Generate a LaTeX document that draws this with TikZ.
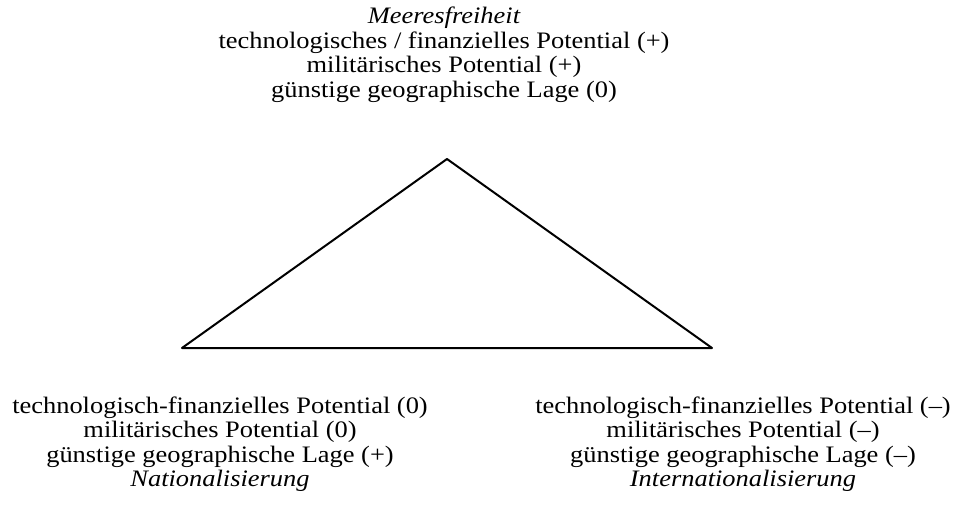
\documentclass[tikz,border=0pt]{standalone}
\usepackage{fontspec}
\setmainfont{Liberation Serif}
\begin{document}
\begin{tikzpicture}[x=1pt,y=-1pt,
  lbl/.style={anchor=base,inner sep=0pt,xscale=1.12,font=\fontsize{23.6}{24.5}\selectfont},
  edge/.style={line width=2pt,line join=round}]
\useasboundingbox (0,0) rectangle (960,510);
% top block
\node[lbl] (t1) at (444,24) {\itshape Meeresfreiheit};
\node[lbl] (t2) at (444,49) {technologisches / finanzielles Potential (+)};
\node[lbl] (t3) at (444,73) {militärisches Potential (+)};
\node[lbl] (t4) at (444,98) {günstige geographische Lage (0)};
% bottom left block
\node[lbl] (l1) at (220,413) {technologisch-finanzielles Potential (0)};
\node[lbl] (l2) at (220,437) {militärisches Potential (0)};
\node[lbl] (l3) at (220,462) {günstige geographische Lage (+)};
\node[lbl] (l4) at (220,486) {\itshape Nationalisierung};
% bottom right block
\node[lbl] (r1) at (743,413) {technologisch-finanzielles Potential (–)};
\node[lbl] (r2) at (743,437) {militärisches Potential (–)};
\node[lbl] (r3) at (743,462) {günstige geographische Lage (–)};
\node[lbl] (r4) at (743,486) {\itshape Internationalisierung};
% triangle
\coordinate (A) at (447,159);
\coordinate (B) at (182,348);
\coordinate (C) at (712,348);
\draw[edge] (A) -- (B) -- (C) -- cycle;
\end{tikzpicture}
\end{document}
